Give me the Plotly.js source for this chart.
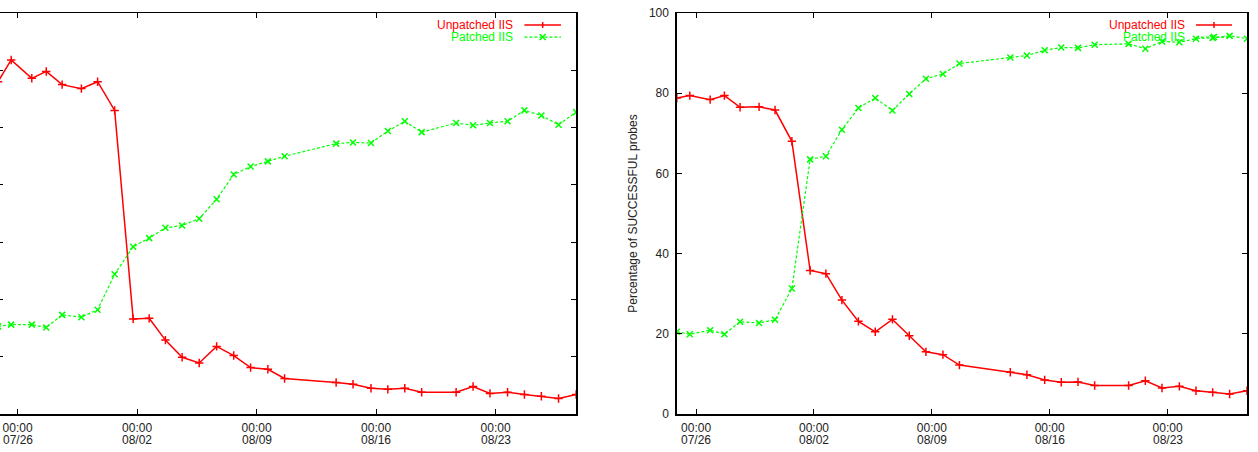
<!DOCTYPE html>
<html>
<head>
<meta charset="utf-8">
<script src="https://cdn.plot.ly/plotly-3.0.1.min.js"></script>
<style>
  html, body { margin: 0; padding: 0; width: 1258px; height: 452px; overflow: hidden; background: #fff; }
  #chart { position: absolute; left: -62px; top: 0; width: 1320px; height: 452px; }
</style>
</head>
<body>
<div id="chart"></div>
<script>
// ---- data ----
const dates = [
  '2001-07-24 20:30','2001-07-25 15:00','2001-07-26 20:00','2001-07-27 16:20','2001-07-28 14:40',
  '2001-07-29 17:45','2001-07-30 16:30','2001-07-31 16:30','2001-08-01 18:30','2001-08-02 17:00',
  '2001-08-03 15:50','2001-08-04 15:20','2001-08-05 15:20','2001-08-06 15:50','2001-08-07 15:50',
  '2001-08-08 15:35','2001-08-09 15:50','2001-08-10 15:20','2001-08-13 15:50','2001-08-14 15:35',
  '2001-08-15 16:50','2001-08-16 16:30','2001-08-17 16:20','2001-08-18 16:05','2001-08-20 16:30',
  '2001-08-21 16:20','2001-08-22 16:05','2001-08-23 16:50','2001-08-24 16:30','2001-08-25 16:20',
  '2001-08-26 16:30','2001-08-27 17:15'
];

// left panel: absolute number of successful probes (its axis labels are cut off in the reference)
const leftUnpatched = [2900,3090,2930,2990,2875,2840,2900,2650,830,835,645,495,445,590,510,405,
  390,310,275,260,225,215,225,190,190,240,180,190,170,155,135,170];
const leftPatched = [765,780,780,755,865,845,910,1220,1460,1535,1625,1645,1705,1875,2090,2160,
  2205,2250,2360,2370,2365,2470,2555,2460,2540,2520,2540,2555,2650,2605,2525,2635];

// right panel: percentage of successful probes
const pctUnpatched = [78.8,79.4,78.4,79.4,76.5,76.6,75.8,68.0,35.8,35.0,28.4,23.1,20.5,23.6,19.5,15.5,
  14.8,12.2,10.4,9.8,8.5,7.9,8.0,7.1,7.1,8.3,6.5,6.9,5.8,5.4,5.0,5.8];
const pctPatched = [20.5,19.9,20.9,19.9,23.0,22.7,23.5,31.3,63.5,64.3,70.9,76.3,78.8,75.7,79.8,83.6,
  84.8,87.4,88.9,89.4,90.7,91.4,91.3,92.1,92.3,91.1,92.9,92.7,93.6,93.8,94.3,93.6];

const seriesNames = ['Unpatched IIS', 'Patched IIS'];
const tickDates = ['2001-07-26','2001-08-02','2001-08-09','2001-08-16','2001-08-23'];
const tickTimes = ['00:00','00:00','00:00','00:00','00:00'];
const tickDays = ['07/26','08/02','08/09','08/16','08/23'];
const yTitleRight = 'Percentage of SUCCESSFUL probes';

// ---- styles ----
const RED = '#ff0000', GREEN = '#00ff00';
const FONT = 'Liberation Sans, Arial, Helvetica, sans-serif';
const TICKFONT = { family: FONT, size: 12, color: '#222' };

function redTrace(x, y, xa, ya) {
  return { x: x, y: y, xaxis: xa, yaxis: ya, type: 'scatter', mode: 'lines+markers', name: seriesNames[0],
    line: { color: RED, width: 1.5 },
    marker: { symbol: 'cross-thin-open', size: 6, color: RED, line: { color: RED, width: 1.5 } },
    showlegend: false };
}
function greenTrace(x, y, xa, ya) {
  return { x: x, y: y, xaxis: xa, yaxis: ya, type: 'scatter', mode: 'lines+markers', name: seriesNames[1],
    line: { color: GREEN, width: 1.2, dash: '3px,2px' },
    marker: { symbol: 'x-thin-open', size: 6, color: GREEN, line: { color: GREEN, width: 1.5 } },
    showlegend: false };
}

const traces = [
  redTrace(dates, leftUnpatched, 'x', 'y'),
  greenTrace(dates, leftPatched, 'x', 'y'),
  redTrace(dates, pctUnpatched, 'x2', 'y2'),
  greenTrace(dates, pctPatched, 'x2', 'y2')
];

const xRange = [dates[0], dates[dates.length - 1]];
const xBase = {
  type: 'date', range: xRange,
  tickmode: 'array', tickvals: tickDates, ticktext: tickTimes,
  ticks: 'inside', ticklen: 5, tickwidth: 1, tickcolor: '#000',
  showline: true, linecolor: '#000', linewidth: 1.5, mirror: 'ticks',
  showgrid: false, zeroline: false, ticklabelstandoff: 2,
  tickfont: TICKFONT
};
const yBase = {
  ticks: 'inside', ticklen: 5, tickwidth: 1, tickcolor: '#000',
  showline: true, linecolor: '#000', linewidth: 1.5, mirror: 'ticks',
  showgrid: false, zeroline: false,
  tickfont: TICKFONT
};

const L_DOM = [0, 0.4629], R_DOM = [0.5435, 1];

const annotations = [];
const shapes = [];

// second line of the gnuplot time labels (day), placed at the tick dates
[['x', 'y domain'], ['x2', 'y2 domain']].forEach(([xr, yr]) => {
  tickDates.forEach((d, i) => {
    annotations.push({ xref: xr, yref: yr, x: d, y: 0, yshift: -26, xanchor: 'center', yanchor: 'middle',
      text: tickDays[i], showarrow: false, font: TICKFONT });
  });
});

// manual gnuplot-style legend (text to the left of the sample)
function addLegend(xd, yd, xspan) {
  const rows = [
    { text: seriesNames[0], color: RED, y: 0.970, dash: 'solid', w: 1.5, sym: '+' },
    { text: seriesNames[1], color: GREEN, y: 0.940, dash: '3px,2px', w: 1.2, sym: 'x' }
  ];
  const dx = 3 / xspan, dy = 3 / 401;
  rows.forEach(r => {
    annotations.push({ xref: xd, yref: yd, x: 0.8947, y: r.y, xanchor: 'right', yanchor: 'middle',
      text: r.text, showarrow: false, font: { family: FONT, size: 12, color: r.color } });
    shapes.push({ type: 'line', xref: xd, yref: yd, x0: 0.9105, x1: 0.9737, y0: r.y, y1: r.y,
      line: { color: r.color, width: r.w, dash: r.dash } });
    const cx = 0.9421;
    if (r.sym === '+') {
      shapes.push({ type: 'line', xref: xd, yref: yd, x0: cx, x1: cx, y0: r.y - dy, y1: r.y + dy,
        line: { color: r.color, width: 1.5 } });
    } else {
      shapes.push({ type: 'line', xref: xd, yref: yd, x0: cx - dx, x1: cx + dx, y0: r.y - dy, y1: r.y + dy,
        line: { color: r.color, width: 1.5 } });
      shapes.push({ type: 'line', xref: xd, yref: yd, x0: cx - dx, x1: cx + dx, y0: r.y + dy, y1: r.y - dy,
        line: { color: r.color, width: 1.5 } });
    }
  });
}
addLegend('x domain', 'y domain', 578);
addLegend('x2 domain', 'y2 domain', 570);

const layout = {
  width: 1320, height: 452,
  margin: { l: 60, r: 11, t: 13, b: 38 },
  paper_bgcolor: '#fff', plot_bgcolor: '#fff',
  showlegend: false,
  font: { family: FONT, size: 12, color: '#222' },
  xaxis: Object.assign({}, xBase, { domain: L_DOM, anchor: 'y' }),
  yaxis: Object.assign({}, yBase, { domain: [0, 1], anchor: 'x', range: [0, 3500], dtick: 500,
    showticklabels: false }),
  xaxis2: Object.assign({}, xBase, { domain: R_DOM, anchor: 'y2' }),
  yaxis2: Object.assign({}, yBase, { domain: [0, 1], anchor: 'x2', range: [0, 100], dtick: 20,
    ticklabelstandoff: 4,
    title: { text: yTitleRight, standoff: 8, font: { family: FONT, size: 12, color: '#222' } } }),
  annotations: annotations,
  shapes: shapes
};

Plotly.newPlot('chart', traces, layout, { staticPlot: true, displayModeBar: false });
</script>
</body>
</html>
